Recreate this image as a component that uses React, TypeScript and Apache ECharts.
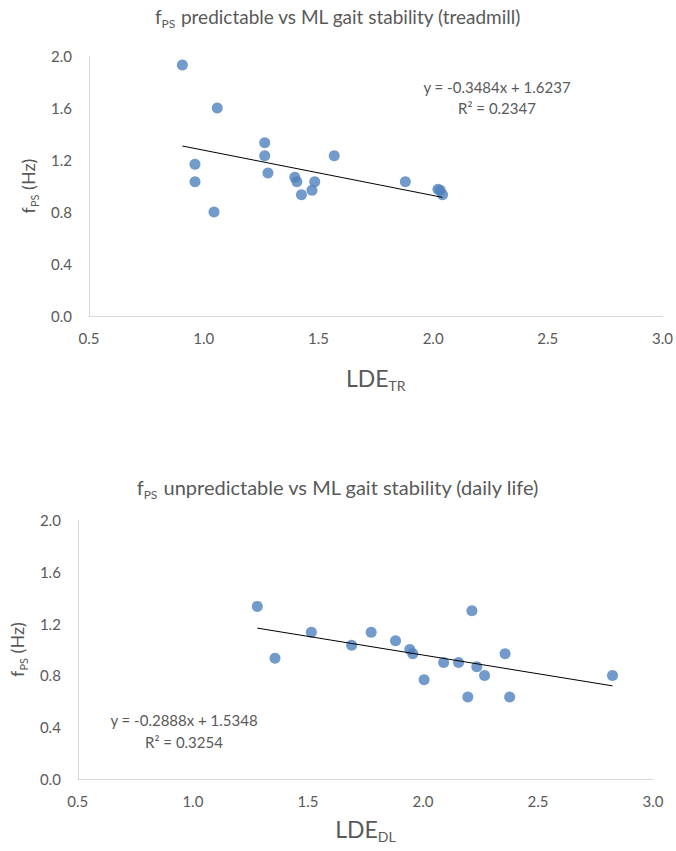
import React, { useEffect, useRef } from "react";
import * as echarts from "echarts";

// Treadmill (top) chart data: LDE_TR vs fPS predictable
const trLDE = [0.907, 1.059, 0.962, 0.962, 1.045, 1.266, 1.266, 1.28, 1.397, 1.406, 1.426, 1.472, 1.484, 1.569, 1.879, 2.021, 2.031, 2.041];
const trFps = [1.93, 1.6, 1.167, 1.033, 0.8, 1.333, 1.233, 1.1, 1.067, 1.033, 0.933, 0.967, 1.033, 1.233, 1.033, 0.975, 0.967, 0.933];

// Daily life (bottom) chart data: LDE_DL vs fPS unpredictable
const dlLDE = [1.28, 1.357, 1.515, 1.69, 1.775, 1.881, 1.943, 1.956, 2.005, 2.09, 2.155, 2.195, 2.213, 2.234, 2.268, 2.357, 2.377, 2.824];
const dlFps = [1.333, 0.933, 1.133, 1.033, 1.133, 1.067, 1.0, 0.967, 0.767, 0.9, 0.9, 0.633, 1.3, 0.867, 0.8, 0.967, 0.633, 0.8];

// Trendline coefficients (as printed on the chart)
const trSlope = -0.3484;
const trIntercept = 1.6237;
const trR2 = "0.2347";
const dlSlope = -0.2888;
const dlIntercept = 1.5348;
const dlR2 = "0.3254";

const titles = [
  ["f", "PS", " predictable vs ML gait stability (treadmill)"],
  ["f", "PS", " unpredictable vs ML gait stability (daily life)"],
];
const xNames = [["LDE", "TR"], ["LDE", "DL"]];

const FONT = "Lato, 'Open Sans', sans-serif";
const GRAY = "#595959";

function trend(xs: number[], m: number, b: number) {
  const lo = Math.min(...xs);
  const hi = Math.max(...xs);
  return [
    [lo, m * lo + b],
    [hi, m * hi + b],
  ];
}

function fmtEq(m: number, b: number) {
  return `y = ${m.toFixed(4)}x + ${b.toFixed(4)}`;
}

export default function App() {
  const ref = useRef<HTMLDivElement>(null);

  useEffect(() => {
    if (!ref.current) return;
    const chart = echarts.init(ref.current, undefined, { renderer: "svg" });

    const subRich = (size: number, sub: number, pad: number) => ({
      a: { fontSize: size, color: GRAY, fontFamily: FONT, fontWeight: "normal", lineHeight: size + 6 },
      b: { fontSize: sub, color: GRAY, fontFamily: FONT, fontWeight: "normal", verticalAlign: "bottom", lineHeight: sub + 2, padding: [pad, 0, 0, 0] },
    });

    const xAxisBase = (i: number) => ({
      type: "value",
      gridIndex: i,
      min: 0.5,
      max: 3.0,
      interval: 0.5,
      axisLine: { show: true, lineStyle: { color: "#d9d9d9", width: 1 } },
      axisTick: { show: false },
      splitLine: { show: false },
      axisLabel: { color: GRAY, fontSize: 15, fontFamily: FONT, margin: 14, formatter: (v: number) => v.toFixed(1) },
      name: `{a|${xNames[i][0]}}{b|${xNames[i][1]}}`,
      nameLocation: "middle",
      nameGap: i === 0 ? 47 : 35,
      nameTextStyle: { rich: subRich(23, 14, 7) },
    });

    const yAxisBase = (i: number) => ({
      type: "value",
      gridIndex: i,
      min: 0,
      max: 2.0,
      interval: 0.4,
      axisLine: { show: true, lineStyle: { color: "#d9d9d9", width: 1 } },
      axisTick: { show: false },
      splitLine: { show: false },
      axisLabel: { color: GRAY, fontSize: 15, fontFamily: FONT, margin: 17, formatter: (v: number) => v.toFixed(1) },
      name: `{a|f}{b|PS}{a| (Hz)}`,
      nameLocation: "middle",
      nameRotate: 90,
      nameGap: i === 0 ? 48 : 37,
      nameTextStyle: { rich: subRich(18, 11, 6) },
    });

    const eqText = (x: number, y: number, text: string) => ({
      type: "text",
      x,
      y,
      style: {
        text,
        fill: GRAY,
        font: `15px ${FONT}`,
        align: "center",
        verticalAlign: "middle",
      },
    });

    const option = {
      animation: false,
      backgroundColor: "#ffffff",
      title: [
        {
          text: `{a|${titles[0][0]}}{b|${titles[0][1]}}{a|${titles[0][2]}}`,
          left: "center",
          top: 4,
          padding: 0,
          textStyle: { rich: subRich(19, 12, 7) },
        },
        {
          text: `{a|${titles[1][0]}}{b|${titles[1][1]}}{a|${titles[1][2]}}`,
          left: "center",
          top: 474,
          padding: 0,
          textStyle: { rich: subRich(20, 12, 7) },
        },
      ],
      grid: [
        { left: 89, top: 56, width: 576, height: 260 },
        { left: 76, top: 520, width: 577, height: 259 },
      ],
      xAxis: [xAxisBase(0), xAxisBase(1)],
      yAxis: [yAxisBase(0), yAxisBase(1)],
      series: [
        {
          type: "scatter",
          xAxisIndex: 0,
          yAxisIndex: 0,
          symbolSize: 11,
          itemStyle: { color: "#4F81BD" },
          data: trLDE.map((x, i) => [x, trFps[i]]),
          z: 2,
        },
        {
          type: "line",
          xAxisIndex: 0,
          yAxisIndex: 0,
          showSymbol: false,
          symbol: "none",
          silent: true,
          lineStyle: { color: "#000000", width: 1 },
          data: trend(trLDE, trSlope, trIntercept),
          z: 3,
        },
        {
          type: "scatter",
          xAxisIndex: 1,
          yAxisIndex: 1,
          symbolSize: 11,
          itemStyle: { color: "#4F81BD" },
          data: dlLDE.map((x, i) => [x, dlFps[i]]),
          z: 2,
        },
        {
          type: "line",
          xAxisIndex: 1,
          yAxisIndex: 1,
          showSymbol: false,
          symbol: "none",
          silent: true,
          lineStyle: { color: "#000000", width: 1 },
          data: trend(dlLDE, dlSlope, dlIntercept),
          z: 3,
        },
      ],
      graphic: [
        eqText(497, 87, fmtEq(trSlope, trIntercept)),
        eqText(497, 108, `R² = ${trR2}`),
        eqText(184, 720, fmtEq(dlSlope, dlIntercept)),
        eqText(184, 742, `R² = ${dlR2}`),
      ],
    };

    chart.setOption(option as any);
    return () => chart.dispose();
  }, []);

  return (
    <div
      ref={ref}
      style={{ position: "absolute", left: 0, top: 0, width: 676, height: 851, background: "#fff" }}
    />
  );
}
